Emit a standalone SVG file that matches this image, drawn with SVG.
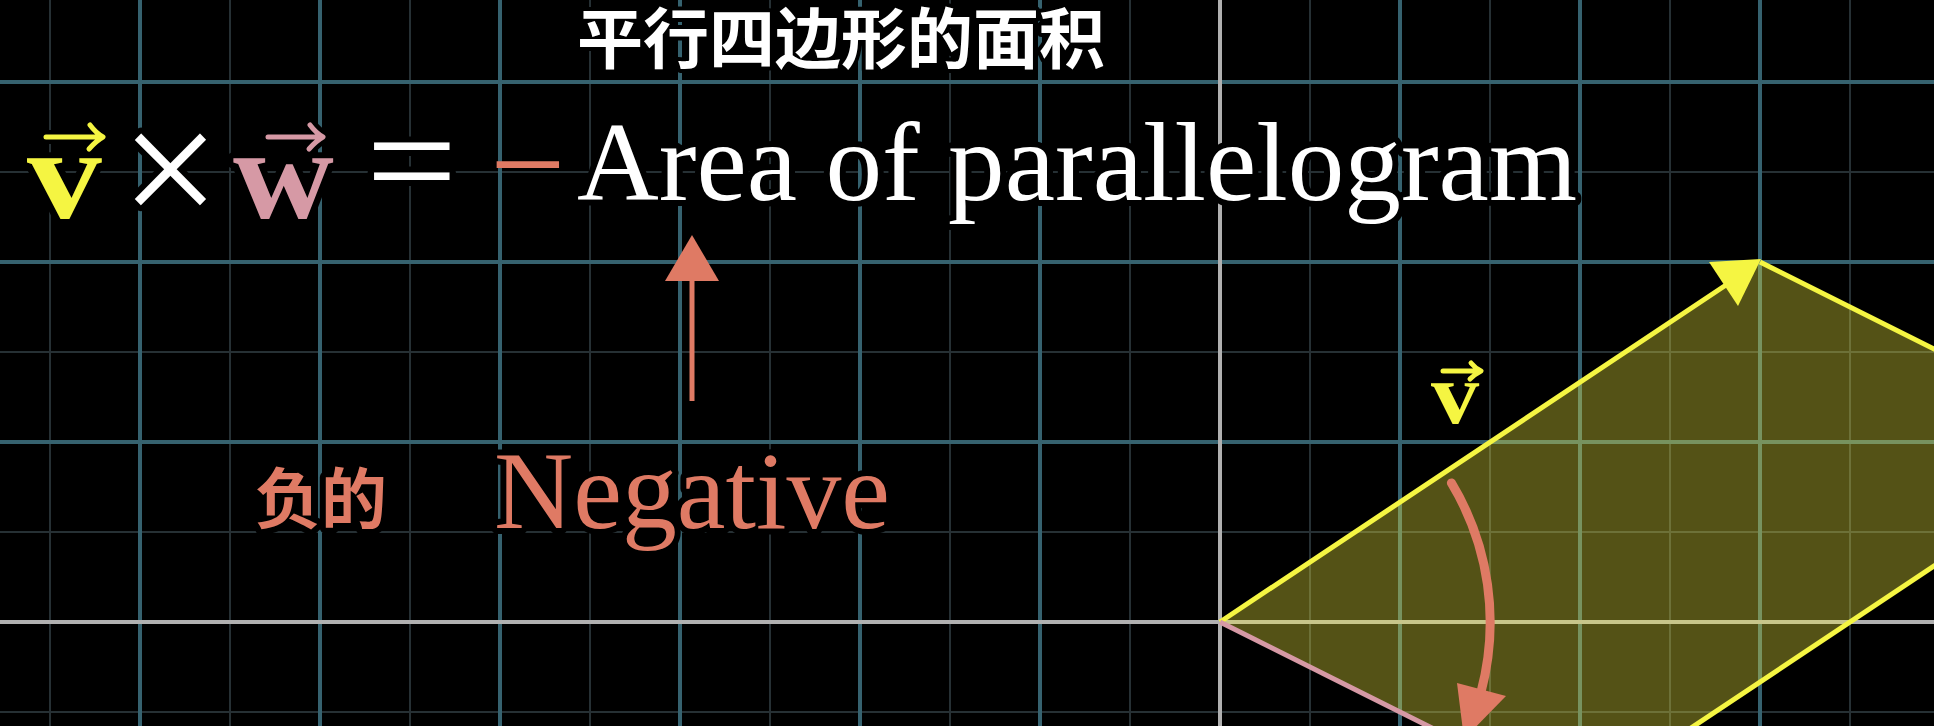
<svg xmlns="http://www.w3.org/2000/svg" width="1934" height="726" viewBox="0 0 1934 726">
<defs>
<style>
.minor{stroke:#263034;stroke-width:2;fill:none}
.major{stroke:#36626f;stroke-width:4;fill:none}
.axis{stroke:#b0b0b0;stroke-width:4;fill:none}
.halo{stroke:#000;stroke-width:12;stroke-linejoin:round;paint-order:stroke fill}
.serif{font-family:"Liberation Serif","Times New Roman",serif}
.cjk{font-family:"Liberation Sans","Noto Sans CJK SC","Noto Sans CJK TC",sans-serif;font-weight:700}
.red{fill:#df7a64}
.yel{fill:#f5f542}
.pink{fill:#d699a5}
.white{fill:#ffffff}
.acc{fill:none;stroke-width:5;stroke-linecap:round;stroke-linejoin:round}
.accbg{fill:none;stroke:#000;stroke-width:14;stroke-linecap:round;stroke-linejoin:round}
</style>
</defs>
<rect width="1934" height="726" fill="#000"/>
<g id="grid">
<path class="minor" d="M50,0V726M230,0V726M410,0V726M590,0V726M770,0V726M950,0V726M1130,0V726M1310,0V726M1490,0V726M1670,0V726M1850,0V726M0,172H1934M0,352H1934M0,532H1934M0,712H1934"/>
<path class="major" d="M140,0V726M320,0V726M500,0V726M680,0V726M860,0V726M1040,0V726M1400,0V726M1580,0V726M1760,0V726M0,82H1934M0,262H1934M0,442H1934"/>
<path class="axis" d="M1220,0V726M0,622H1934"/>
</g>
<g id="title">
<text class="cjk white halo" font-size="66" x="577" y="63" style="stroke-width:8">平行四边形的面积</text>
</g>
<g id="equation">
<path class="accbg" d="M46,137H101M90,125Q96,133 103,137Q96,141 89,149"/>
<path class="accbg" d="M268,137H321M310,125Q316,133 323,137Q316,141 309,149"/>
<text class="serif yel halo" font-weight="700" font-size="130" transform="translate(27,218) scale(1.15,1)">v</text>
<path class="acc" stroke="#f5f542" d="M46,137H101M90,125Q96,133 103,137Q96,141 89,149"/>
<text class="serif white halo" font-size="175" x="121" y="228">×</text>
<text class="serif pink halo" font-weight="700" font-size="130" transform="translate(233,218) scale(1.075,1)">w</text>
<path class="acc" stroke="#d699a5" d="M268,137H321M310,125Q316,133 323,137Q316,141 309,149"/>
<text class="serif white halo" font-size="150" transform="translate(366,211) scale(1.08,1)">=</text>
<text class="serif red" font-size="134" x="490" y="209">−</text>
<text class="serif white halo" font-size="113" x="577" y="200" textLength="1000" lengthAdjust="spacingAndGlyphs">Area of parallelogram</text>
</g>
<g id="label-negative-cn">
<text class="cjk red halo" font-size="66" x="255" y="523">负的</text>
</g>
<g id="label-negative">
<text class="serif red halo" font-size="110" x="494" y="528" textLength="396" lengthAdjust="spacingAndGlyphs">Negative</text>
</g>
<g id="parallelogram">
<polygon points="1220,622 1760,262 2120,442 1580,802" fill="#f5f040" fill-opacity="0.34"/>
<path d="M1220,622L1735,279M1760,262L2120,442L1580,802" fill="none" stroke="#f5f542" stroke-width="5" stroke-linejoin="round"/>
<path d="M1220,622L1580,802" fill="none" stroke="#d699a5" stroke-width="5"/>
<polygon points="1761,259 1709,262 1738,306" fill="#f5f542"/>
</g>
<g id="label-v">
<text class="serif yel" font-weight="700" font-size="86" transform="translate(1431,423) scale(1.12,1)">v</text>
<path class="acc" stroke="#f5f542" stroke-width="4" d="M1443,371H1479M1471,363Q1475,368 1481,371Q1475,374 1470,379"/>
</g>
<g id="connectors">
<path d="M692,401V276" fill="none" stroke="#df7a64" stroke-width="5"/>
<polygon points="692,235 665,281 719,281" fill="#df7a64"/>
<path d="M1451.4,482.9A270,270 0 0,1 1481,692" fill="none" stroke="#df7a64" stroke-width="9" stroke-linecap="round"/>
<polygon points="1464,739 1457,683 1506,696" fill="#df7a64"/>
</g>
</svg>
